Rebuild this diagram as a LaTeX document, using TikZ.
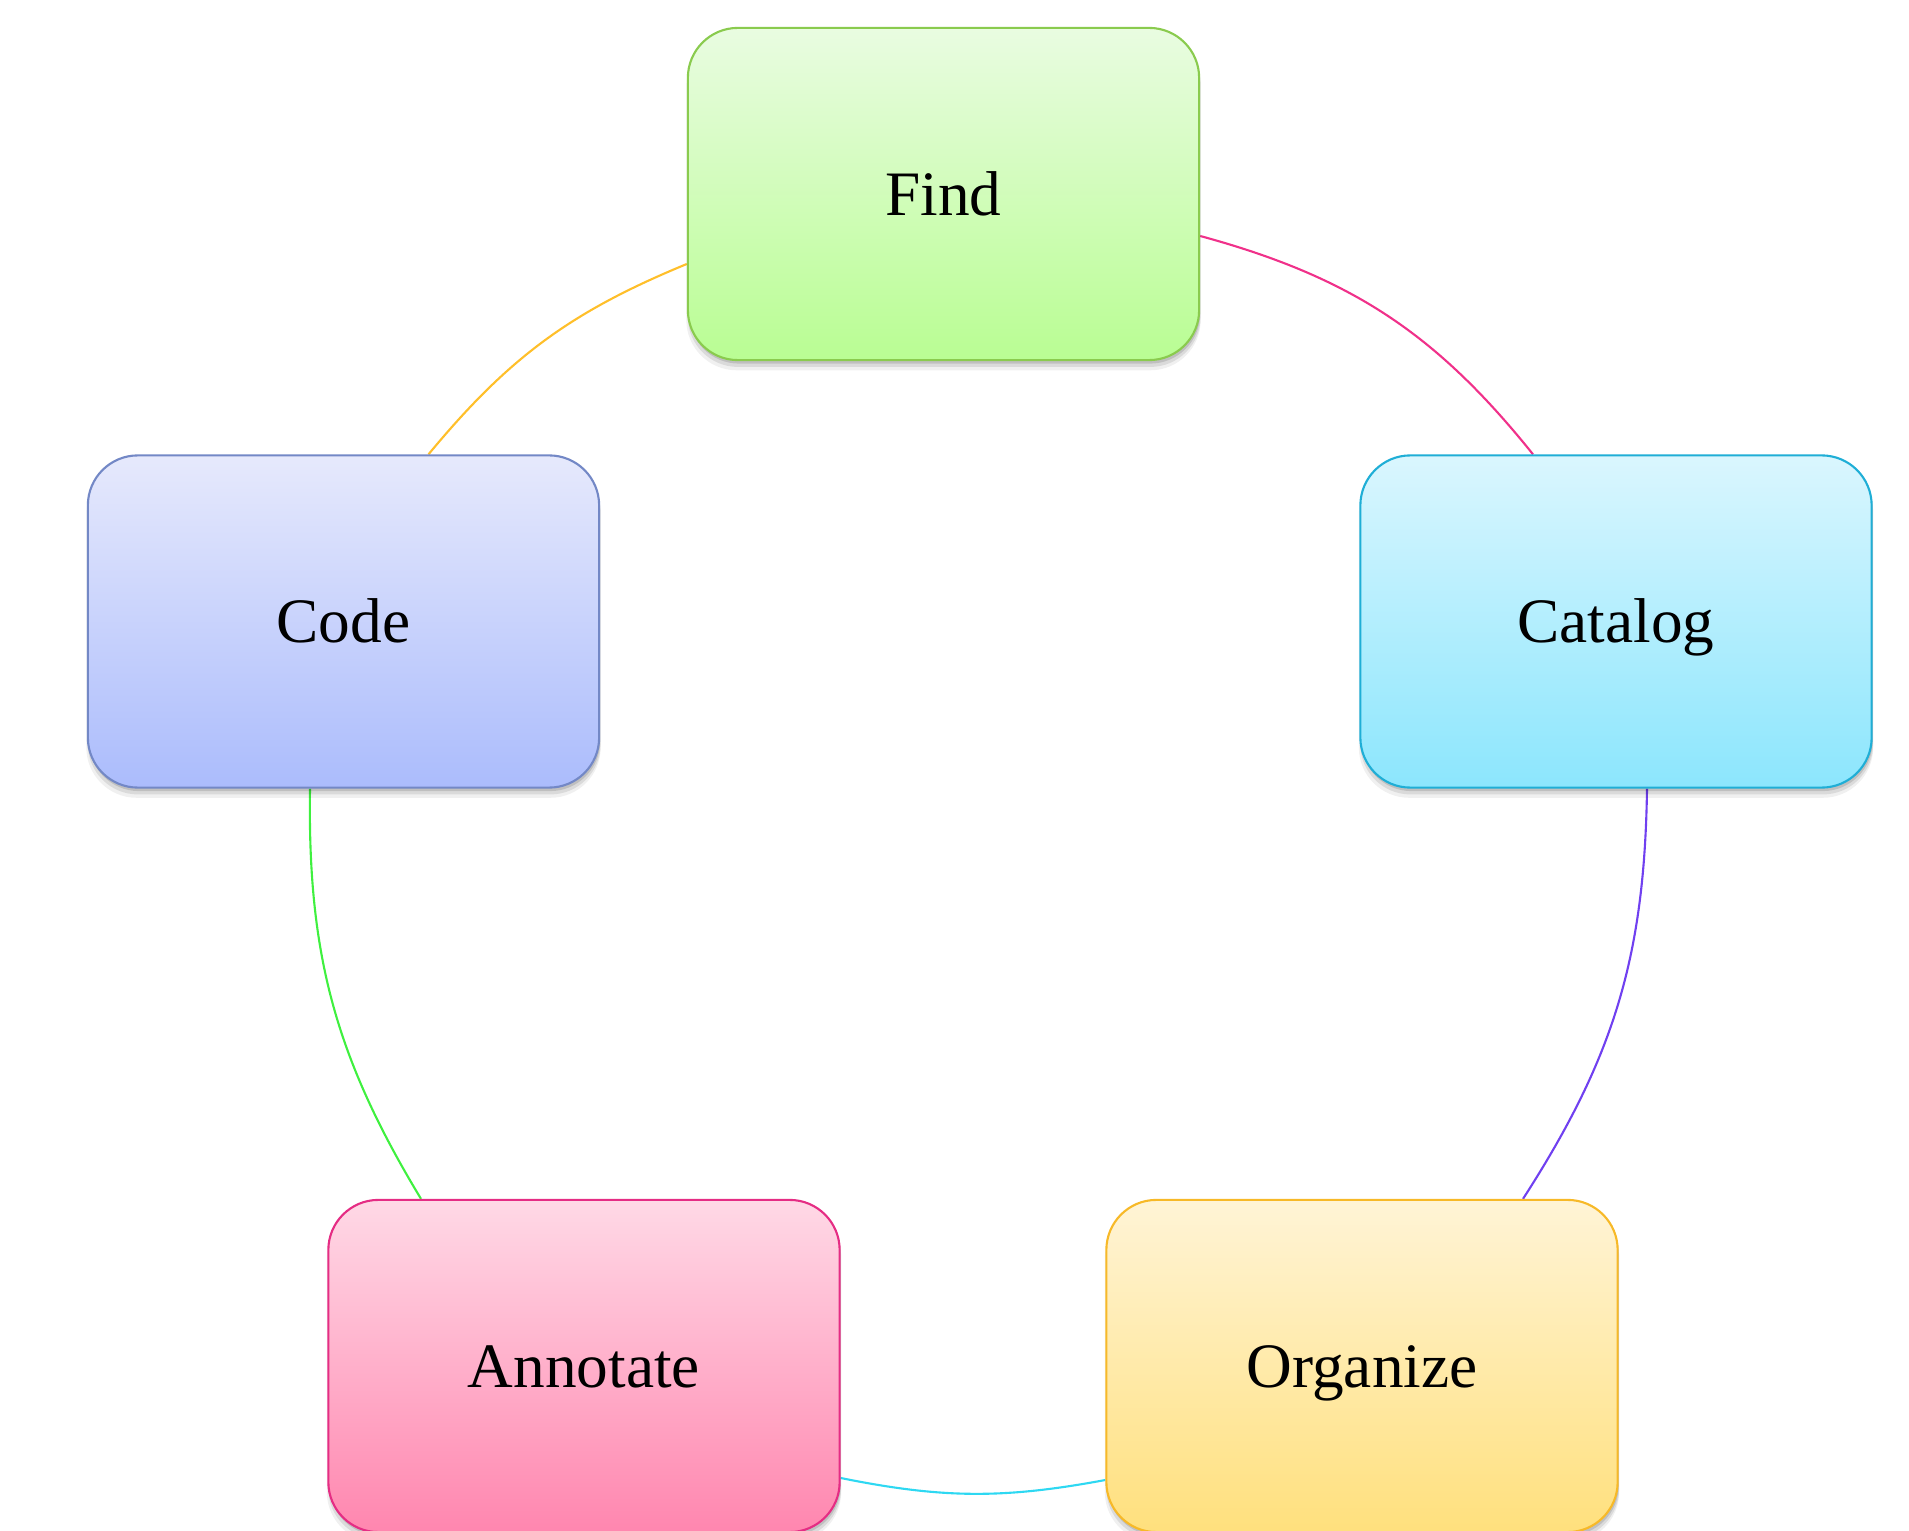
\documentclass[tikz,border=0pt]{standalone}
\usepackage{fontspec}
\setmainfont{Liberation Serif}
\usetikzlibrary{calc,shadows}
\pgfdeclarelayer{bg}
\pgfsetlayers{bg,main}
\definecolor{findtop}{HTML}{E9FCE1}\definecolor{findbot}{HTML}{B9FD93}\definecolor{findline}{HTML}{8ACB4E}
\definecolor{cattop}{HTML}{DAF6FE}\definecolor{catbot}{HTML}{8CE6FD}\definecolor{catline}{HTML}{1FAED6}
\definecolor{codetop}{HTML}{E6E9FC}\definecolor{codebot}{HTML}{ABBCFC}\definecolor{codeline}{HTML}{7388C6}
\definecolor{anntop}{HTML}{FFD9E6}\definecolor{annbot}{HTML}{FF86AF}\definecolor{annline}{HTML}{E52D84}
\definecolor{orgtop}{HTML}{FFF4D6}\definecolor{orgbot}{HTML}{FFE07D}\definecolor{orgline}{HTML}{F7B928}
\definecolor{lnorange}{HTML}{FFBF2A}\definecolor{lnpink}{HTML}{F0318A}\definecolor{lnpurple}{HTML}{7040F0}
\definecolor{lncyan}{HTML}{2ED8F2}\definecolor{lngreen}{HTML}{3FF03F}
\tikzset{
  stagebox/.style={rectangle, rounded corners=0.5cm, minimum width=5.11cm, minimum height=3.32cm,
    line width=0.6pt, font=\fontsize{18}{22}\selectfont, text height=12pt, text depth=0pt,
    drop shadow={shadow xshift=0pt, shadow yshift=-2.6pt, shadow scale=1.006, opacity=0.06, fill=black},
    drop shadow={shadow xshift=0.2pt, shadow yshift=-1.8pt, shadow scale=1.003, opacity=0.09, fill=black},
    drop shadow={shadow xshift=0.3pt, shadow yshift=-1.0pt, opacity=0.12, fill=black}},
  link/.style={line width=0.6pt}
}
\begin{document}
\begin{tikzpicture}[x=0.01cm, y=-0.01cm]
\useasboundingbox (0,0) rectangle (1909,1531);
\node[stagebox, draw=findline, top color=findtop, bottom color=findbot] (find) at (943.5,194) {Find};
\node[stagebox, draw=catline, top color=cattop, bottom color=catbot] (catalog) at (1616,621.5) {Catalog};
\node[stagebox, draw=codeline, top color=codetop, bottom color=codebot] (code) at (343.5,621.5) {Code};
\node[stagebox, draw=annline, top color=anntop, bottom color=annbot] (annotate) at (584,1366) {Annotate};
\node[stagebox, draw=orgline, top color=orgtop, bottom color=orgbot] (organize) at (1362,1366) {Organize};
\begin{pgfonlayer}{bg}
\draw[link, lnorange] ($(code.north)+(85,0)$) to[bend left=14] ($(find.west)+(0,70)$);
\draw[link, lnpink] ($(find.east)+(0,42)$) to[bend left=18] ($(catalog.north)+(-83,0)$);
\draw[link, lnpurple] ($(catalog.south)+(31,0)$) to[bend left=16] ($(organize.north)+(161,0)$);
\draw[link, lncyan] ($(organize.west)+(0,114)$) to[bend left=11] ($(annotate.east)+(0,112)$);
\draw[link, lngreen] ($(annotate.north)+(-163,0)$) to[bend left=16] ($(code.south)+(-33.5,0)$);
\end{pgfonlayer}
\end{tikzpicture}
\end{document}
